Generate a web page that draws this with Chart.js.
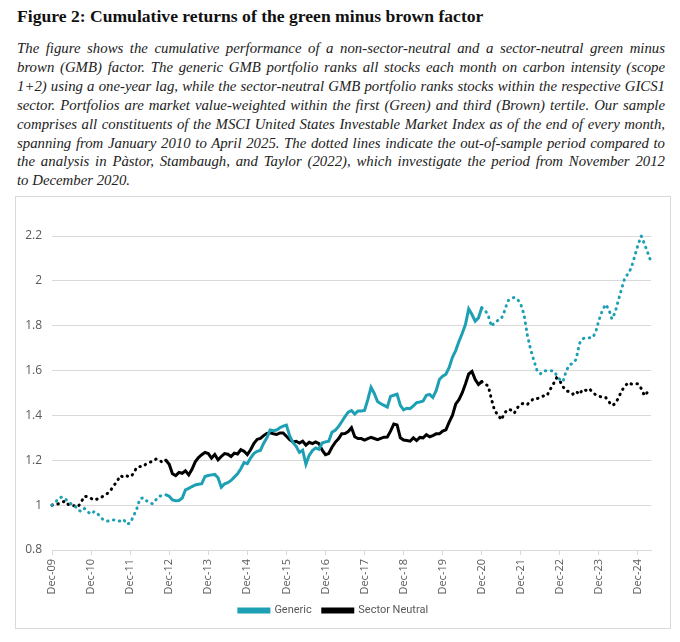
<!DOCTYPE html>
<html>
<head>
<meta charset="utf-8">
<script src="https://cdn.jsdelivr.net/npm/chart.js@4"></script>
<style>
  body { margin: 0; background: #fff; width: 680px; height: 642px; position: relative; overflow: hidden; }
  #title { position: absolute; left: 17px; top: 6px; font: bold 17.6px "Liberation Serif", serif; color: #111; }
  #caption { position: absolute; left: 17px; top: 39px; width: 648px; font: italic 14.8px "Liberation Serif", serif; color: #222; line-height: 18.9px; }
  #caption span { display: block; text-align: justify; text-align-last: justify; white-space: nowrap; }
  #caption span.last { text-align-last: left; }
  #box { position: absolute; left: 15px; top: 196px; width: 656px; height: 433px; border: 1px solid #d9d9d9; box-sizing: border-box; }
  #chart { position: absolute; left: 16px; top: 197px; }
</style>
</head>
<body>
<div id="title">Figure 2: Cumulative returns of the green minus brown factor</div>
<div id="caption">
<span>The figure shows the cumulative performance of a non-sector-neutral and a sector-neutral green minus</span>
<span>brown (GMB) factor. The generic GMB portfolio ranks all stocks each month on carbon intensity (scope</span>
<span>1+2) using a one-year lag, while the sector-neutral GMB portfolio ranks stocks within the respective GICS1</span>
<span>sector. Portfolios are market value-weighted within the first (Green) and third (Brown) tertile. Our sample</span>
<span>comprises all constituents of the MSCI United States Investable Market Index as of the end of every month,</span>
<span>spanning from January 2010 to April 2025. The dotted lines indicate the out-of-sample period compared to</span>
<span>the analysis in Pàstor, Stambaugh, and Taylor (2022), which investigate the period from November 2012</span>
<span class="last">to December 2020.</span>
</div>
<div id="box"></div>
<canvas id="chart" width="654" height="431"></canvas>
<script>
// monthly, Dec-09 .. Apr-25
const monthNames = ["Jan", "Feb", "Mar", "Apr", "May", "Jun", "Jul", "Aug", "Sep", "Oct", "Nov", "Dec"];
const months = ["Dec-09"];
for (let y = 10; y <= 25; y++) {
  for (let m = 0; m < 12; m++) {
    if (y === 25 && m > 3) break;
    months.push(monthNames[m] + "-" + String(y).padStart(2, "0"));
  }
}

const generic = [
  1.000, 1.012, 1.030, 1.036, 1.030, 1.014, 1.005, 0.997, 0.979, 0.971, 0.985, 0.970,
  0.960, 0.972, 0.962, 0.945, 0.932, 0.929, 0.930, 0.934, 0.930, 0.929, 0.936, 0.915,
  0.920, 0.950, 0.982, 1.028, 1.033, 1.020, 1.010, 1.006, 1.025, 1.040, 1.043, 1.046,
  1.040, 1.023, 1.020, 1.021, 1.032, 1.068, 1.075, 1.083, 1.090, 1.093, 1.096, 1.128,
  1.132, 1.135, 1.137, 1.122, 1.080, 1.095, 1.100, 1.110, 1.125, 1.140, 1.162, 1.190,
  1.185, 1.210, 1.230, 1.240, 1.244, 1.275, 1.300, 1.335, 1.332, 1.335, 1.345, 1.352,
  1.357, 1.310, 1.280, 1.262, 1.235, 1.245, 1.182, 1.222, 1.243, 1.255, 1.249, 1.277,
  1.282, 1.285, 1.325, 1.334, 1.350, 1.372, 1.395, 1.415, 1.422, 1.406, 1.420, 1.420,
  1.422, 1.470, 1.525, 1.498, 1.462, 1.452, 1.445, 1.437, 1.485, 1.490, 1.495, 1.445,
  1.425, 1.432, 1.430, 1.442, 1.457, 1.460, 1.464, 1.490, 1.494, 1.480, 1.510, 1.560,
  1.575, 1.584, 1.614, 1.659, 1.689, 1.730, 1.765, 1.805, 1.875, 1.850, 1.820, 1.835,
  1.880, 1.870, 1.845, 1.797, 1.816, 1.824, 1.830, 1.865, 1.910, 1.922, 1.926, 1.918,
  1.895, 1.850, 1.760, 1.695, 1.645, 1.600, 1.585, 1.599, 1.599, 1.599, 1.599, 1.580,
  1.560, 1.552, 1.600, 1.626, 1.632, 1.650, 1.720, 1.742, 1.746, 1.746, 1.746, 1.770,
  1.825, 1.865, 1.895, 1.875, 1.830, 1.860, 1.915, 1.965, 2.015, 2.032, 2.060, 2.110,
  2.160, 2.200, 2.165, 2.125, 2.086
];

const sectorNeutral = [
  1.000, 1.003, 1.006, 1.012, 1.018, 1.003, 0.999, 0.997, 0.993, 1.015, 1.040, 1.037,
  1.030, 1.022, 1.028, 1.033, 1.043, 1.052, 1.066, 1.087, 1.107, 1.132, 1.124, 1.130,
  1.126, 1.140, 1.168, 1.172, 1.172, 1.185, 1.191, 1.196, 1.206, 1.200, 1.190, 1.200,
  1.182, 1.140, 1.132, 1.146, 1.142, 1.153, 1.135, 1.160, 1.193, 1.212, 1.225, 1.235,
  1.230, 1.210, 1.226, 1.202, 1.217, 1.230, 1.227, 1.217, 1.232, 1.228, 1.247, 1.240,
  1.225, 1.247, 1.275, 1.293, 1.298, 1.310, 1.320, 1.322, 1.318, 1.315, 1.322, 1.322,
  1.307, 1.292, 1.282, 1.285, 1.277, 1.285, 1.268, 1.280, 1.274, 1.282, 1.274, 1.245,
  1.225, 1.230, 1.258, 1.280, 1.296, 1.318, 1.319, 1.328, 1.345, 1.305, 1.297, 1.297,
  1.290, 1.297, 1.302, 1.297, 1.292, 1.298, 1.303, 1.304, 1.330, 1.362, 1.358, 1.300,
  1.290, 1.288, 1.285, 1.300, 1.288, 1.302, 1.300, 1.314, 1.305, 1.310, 1.318, 1.318,
  1.330, 1.336, 1.370, 1.400, 1.450, 1.470, 1.500, 1.540, 1.585, 1.596, 1.560, 1.538,
  1.551, 1.540, 1.532, 1.472, 1.419, 1.404, 1.380, 1.410, 1.427, 1.424, 1.410, 1.435,
  1.450, 1.455, 1.449, 1.462, 1.476, 1.475, 1.480, 1.487, 1.487, 1.515, 1.540, 1.567,
  1.554, 1.527, 1.509, 1.506, 1.495, 1.508, 1.494, 1.516, 1.512, 1.520, 1.504, 1.492,
  1.485, 1.482, 1.482, 1.462, 1.444, 1.452, 1.478, 1.510, 1.530, 1.547, 1.540, 1.541,
  1.541, 1.520, 1.488, 1.505, 1.517
];

const yTicks = [0.8, 1, 1.2, 1.4, 1.6, 1.8, 2, 2.2];

// in-sample window of Pastor, Stambaugh and Taylor: Nov-12 .. Dec-20
const solidFrom = months.indexOf("Nov-12");
const solidTo = months.indexOf("Dec-20");

const dotted = (ctx) =>
  ctx.p1DataIndex <= solidFrom || ctx.p0DataIndex >= solidTo ? [0.5, 5.5] : undefined;

const ctx = document.getElementById("chart").getContext("2d");
new Chart(ctx, {
  type: "line",
  data: {
    labels: months,
    datasets: [
      {
        label: "Generic",
        data: generic,
        borderColor: "#1ea0b4",
        backgroundColor: "#1ea0b4",
        borderWidth: 3,
        pointRadius: 0,
        tension: 0,
        clip: false,
        borderCapStyle: "round",
        segment: { borderDash: dotted },
      },
      {
        label: "Sector Neutral",
        data: sectorNeutral,
        borderColor: "#000000",
        backgroundColor: "#000000",
        borderWidth: 3,
        pointRadius: 0,
        tension: 0,
        clip: false,
        borderCapStyle: "round",
        segment: { borderDash: dotted },
      },
    ],
  },
  options: {
    responsive: false,
    animation: false,
    layout: { padding: { top: 39, right: 19, left: 0, bottom: 2 } },
    plugins: {
      tooltip: { enabled: false },
      legend: {
        position: "bottom",
        labels: {
          boxWidth: 30,
          boxHeight: 3,
          padding: 11,
          color: "#595959",
          font: { family: "Roboto", size: 11 },
        },
      },
    },
    scales: {
      x: {
        afterFit: (s) => { s.height = 44; },
        border: { color: "#d9d9d9" },
        grid: {
          drawOnChartArea: false,
          tickLength: 5,
          color: (c) => (c.index % 12 === 0 ? "#d9d9d9" : "transparent"),
        },
        ticks: {
          autoSkip: false,
          maxRotation: 90,
          minRotation: 90,
          padding: 4,
          color: "#595959",
          font: { family: "Open Sans", size: 11 },
          callback: (v, i) => (i % 12 === 0 ? months[i] : ""),
        },
      },
      y: {
        min: 0.8,
        max: 2.2,
        afterFit: (s) => { s.width = 36; },
        afterBuildTicks: (s) => { s.ticks = yTicks.map((v) => ({ value: v })); },
        border: { display: false },
        grid: { color: "#d9d9d9", drawTicks: false },
        ticks: {
          padding: 10,
          color: "#595959",
          font: { family: "Open Sans", size: 12 },
          callback: (v) => String(+v.toFixed(2)),
        },
      },
    },
  },
});
</script>
</body>
</html>
